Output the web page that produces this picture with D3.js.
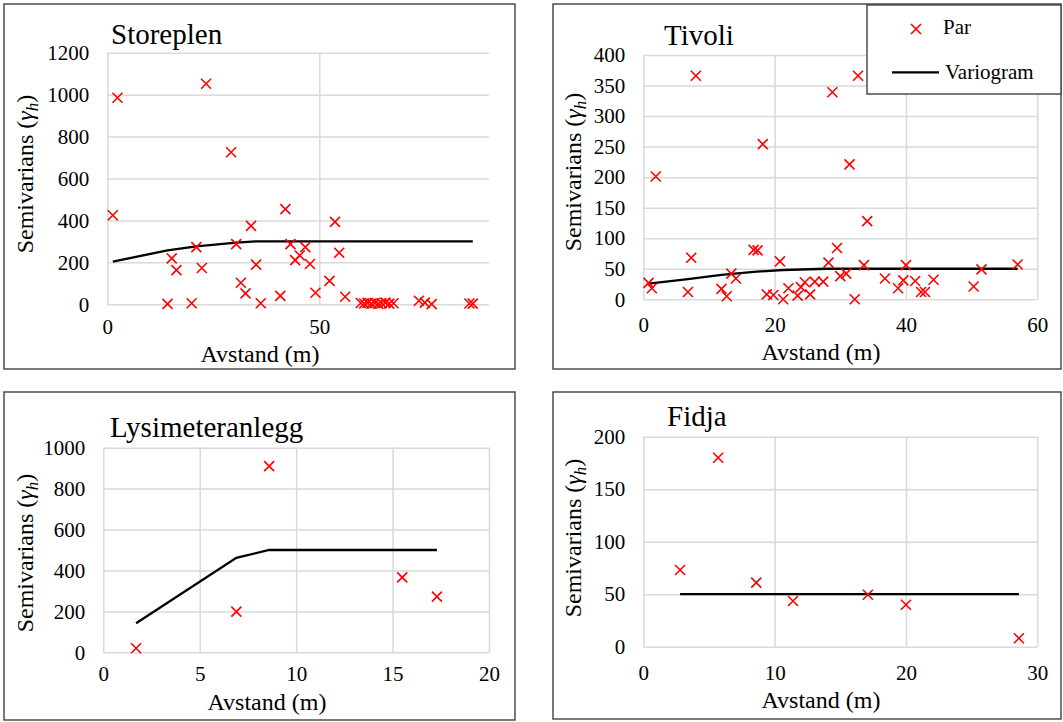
<!DOCTYPE html>
<html>
<head>
<meta charset="utf-8">
<script src="https://cdn.jsdelivr.net/npm/d3@7"></script>
<style>
  body { margin: 0; background: #fff; }
  svg text { font-family: "Liberation Serif", "Times New Roman", serif; fill: #000; }
</style>
</head>
<body>
<div id="chart-container"></div>
<script>
// ---- data (distance in m, semivariance) ----
const storeplenPairs = [
  [1.3, 425], [2.4, 985], [14.2, 2], [15.2, 219], [16.3, 163], [19.9, 5], [21.0, 273],
  [22.3, 173], [23.3, 1052], [29.2, 725], [30.4, 287], [31.5, 103], [32.6, 52], [33.9, 374],
  [35.1, 189], [36.2, 5], [40.8, 40], [42.0, 454], [43.2, 287], [44.3, 211], [45.4, 233],
  [46.7, 273], [47.8, 192], [49.1, 55], [52.4, 112], [53.7, 393], [54.7, 246], [56.1, 36],
  [59.8, 6], [60.6, 4], [61.4, 7], [62.3, 3], [63.1, 6], [63.9, 2], [64.7, 5], [65.6, 8],
  [66.5, 3], [67.5, 5], [73.5, 17], [74.9, 8], [76.5, 1], [85.4, 4], [86.2, 3]
];
const storeplenModel = [[1.3, 204], [14.2, 257], [21.0, 276], [30.4, 294], [35.0, 300], [86.2, 300]];

const tivoliPairs = [
  [0.8, 27], [1.3, 18], [1.9, 201], [6.8, 12], [7.3, 68], [8.0, 366], [11.9, 17], [12.7, 5],
  [13.4, 42], [14.1, 34], [16.8, 81], [17.4, 80], [18.2, 254], [18.8, 8], [19.8, 7],
  [20.8, 62], [21.3, 0], [22.1, 18], [23.5, 6], [24.0, 20], [24.6, 28], [25.4, 8], [26.1, 29],
  [27.4, 29], [28.2, 60], [28.8, 339], [29.5, 84], [30.0, 38], [30.9, 42], [31.4, 221],
  [32.2, 0], [32.7, 366], [33.6, 56], [34.1, 128], [36.8, 34], [38.8, 18], [39.6, 31],
  [40.0, 56], [41.4, 30], [42.3, 12], [42.9, 12], [44.2, 32], [50.3, 21], [51.5, 49], [57.0, 57]
];
const tivoliModel = [[0.8, 25.5], [6.8, 33], [11.9, 40], [16.8, 45], [21.3, 48], [28.0, 50], [57.0, 50]];

const lysimeterPairs = [[1.7, 20], [6.9, 199], [8.6, 910], [15.5, 366], [17.3, 272]];
const lysimeterModel = [[1.7, 142], [6.9, 462], [8.6, 500], [17.3, 500]];

const fidjaPairs = [[2.8, 73], [5.7, 180], [8.6, 61], [11.4, 43.5], [17.1, 49.5], [20.0, 40], [28.6, 8]];
const fidjaModel = [[2.8, 50], [28.6, 50]];

// ---- tick labels ----
const storeplenXTicks = [0, 50];
const storeplenYTicks = [0, 200, 400, 600, 800, 1000, 1200];
const tivoliXTicks = [0, 20, 40, 60];
const tivoliYTicks = [0, 50, 100, 150, 200, 250, 300, 350, 400];
const lysimeterXTicks = [0, 5, 10, 15, 20];
const lysimeterYTicks = [0, 200, 400, 600, 800, 1000];
const fidjaXTicks = [0, 10, 20, 30];
const fidjaYTicks = [0, 50, 100, 150, 200];

const serif = '"Liberation Serif", "Times New Roman", serif';

const svg = d3.select("#chart-container")
  .append("svg")
  .attr("width", 1063)
  .attr("height", 722)
  .attr("font-family", serif);

const gridColor = "#d9d9d9";

function drawPanel(p) {
  // frame
  svg.append("rect")
    .attr("x", p.box[0]).attr("y", p.box[1])
    .attr("width", p.box[2] - p.box[0]).attr("height", p.box[3] - p.box[1])
    .attr("fill", "#fff").attr("stroke", "#404040").attr("stroke-width", 1.4);

  const x = d3.scaleLinear().domain(p.xDomain).range(p.xRange);
  const y = d3.scaleLinear().domain(p.yDomain).range(p.yRange);
  const w = p.xRange[1] - p.xRange[0];
  const h = p.yRange[0] - p.yRange[1];

  // gridlines
  const gy = svg.append("g")
    .attr("transform", `translate(${p.xRange[0]},0)`)
    .call(d3.axisLeft(y).tickValues(p.yTicks).tickSize(-w).tickFormat(""));
  const gx = svg.append("g")
    .attr("transform", `translate(0,${p.yRange[0]})`)
    .call(d3.axisBottom(x).tickValues(p.xTicks).tickSize(-h).tickFormat(""));
  [gx, gy].forEach(g => {
    g.select(".domain").remove();
    g.selectAll("line").attr("stroke", gridColor).attr("stroke-width", 1.5);
  });

  // tick labels
  const ly = svg.append("g")
    .attr("transform", `translate(${p.xRange[0]},0)`)
    .call(d3.axisLeft(y).tickValues(p.yTicks).tickSize(0).tickPadding(18).tickFormat(d3.format("d")));
  const lx = svg.append("g")
    .attr("transform", `translate(0,${p.yRange[0]})`)
    .call(d3.axisBottom(x).tickValues(p.xTicks).tickSize(0).tickPadding(p.xPad).tickFormat(d3.format("d")));
  [lx, ly].forEach(g => {
    g.attr("font-family", serif).attr("font-size", 21);
    g.select(".domain").remove();
    g.selectAll("text").attr("fill", "#000");
  });

  // variogram line
  svg.append("path")
    .datum(p.model)
    .attr("fill", "none")
    .attr("stroke", "#000")
    .attr("stroke-width", 2.3)
    .attr("d", d3.line().x(d => x(d[0])).y(d => y(d[1])));

  // pairs
  svg.selectAll(null)
    .data(p.pairs)
    .enter().append("path")
    .attr("transform", d => `translate(${x(d[0])},${y(d[1])})`)
    .attr("d", "M-5,-5L5,5M-5,5L5,-5")
    .attr("stroke", "#ff0000")
    .attr("stroke-width", 1.6)
    .attr("fill", "none");

  // title
  svg.append("text")
    .attr("x", p.titlePos[0]).attr("y", p.titlePos[1])
    .attr("font-size", 29)
    .text(p.title);

  // x label
  svg.append("text")
    .attr("x", p.xLabelPos[0]).attr("y", p.xLabelPos[1])
    .attr("text-anchor", "middle")
    .attr("font-size", 24)
    .text("Avstand (m)");

  // y label
  const yl = svg.append("text")
    .attr("transform", `translate(${p.yLabelPos[0]},${p.yLabelPos[1]}) rotate(-90)`)
    .attr("text-anchor", "middle")
    .attr("font-size", 24);
  yl.append("tspan").text("Semivarians (");
  yl.append("tspan").attr("font-style", "italic").text("γ");
  yl.append("tspan").attr("font-style", "italic").attr("font-size", 17).attr("dy", 5).text("h");
  yl.append("tspan").attr("dy", -5).text(")");
}

drawPanel({
  box: [4, 4, 515, 369],
  xDomain: [0, 90], xRange: [107.3, 488.9],
  yDomain: [0, 1200], yRange: [304.3, 52.7],
  xTicks: storeplenXTicks, yTicks: storeplenYTicks, xPad: 15,
  pairs: storeplenPairs, model: storeplenModel,
  title: "Storeplen", titlePos: [111, 43.5],
  xLabelPos: [260, 362], yLabelPos: [33, 174]
});

drawPanel({
  box: [553, 4, 1061, 369],
  xDomain: [0, 60], xRange: [643.3, 1037.3],
  yDomain: [0, 400], yRange: [299.3, 55],
  xTicks: tivoliXTicks, yTicks: tivoliYTicks, xPad: 18,
  pairs: tivoliPairs, model: tivoliModel,
  title: "Tivoli", titlePos: [664, 45],
  xLabelPos: [821, 360], yLabelPos: [581, 172]
});

drawPanel({
  box: [4, 392, 515, 720],
  xDomain: [0, 20], xRange: [103.3, 489],
  yDomain: [0, 1000], yRange: [652.3, 447.7],
  xTicks: lysimeterXTicks, yTicks: lysimeterYTicks, xPad: 14,
  pairs: lysimeterPairs, model: lysimeterModel,
  title: "Lysimeteranlegg", titlePos: [110, 437],
  xLabelPos: [267, 710], yLabelPos: [33, 553]
});

drawPanel({
  box: [553, 392, 1061, 719],
  xDomain: [0, 30], xRange: [643.3, 1037.3],
  yDomain: [0, 200], yRange: [646.7, 436.7],
  xTicks: fidjaXTicks, yTicks: fidjaYTicks, xPad: 18,
  pairs: fidjaPairs, model: fidjaModel,
  title: "Fidja", titlePos: [667, 426],
  xLabelPos: [821, 708], yLabelPos: [581, 538]
});

// legend (on top of Tivoli panel)
const legend = svg.append("g");
legend.append("rect")
  .attr("x", 867).attr("y", 5).attr("width", 194).attr("height", 89)
  .attr("fill", "#fff").attr("stroke", "#404040").attr("stroke-width", 1.4);
legend.append("path")
  .attr("transform", "translate(916,29)")
  .attr("d", "M-5,-5L5,5M-5,5L5,-5")
  .attr("stroke", "#ff0000").attr("stroke-width", 1.6);
legend.append("text").attr("x", 943).attr("y", 34).attr("font-size", 21).text("Par");
legend.append("line")
  .attr("x1", 892).attr("x2", 939).attr("y1", 72.3).attr("y2", 72.3)
  .attr("stroke", "#000").attr("stroke-width", 2.3);
legend.append("text").attr("x", 945).attr("y", 79).attr("font-size", 21).text("Variogram");
</script>
</body>
</html>
